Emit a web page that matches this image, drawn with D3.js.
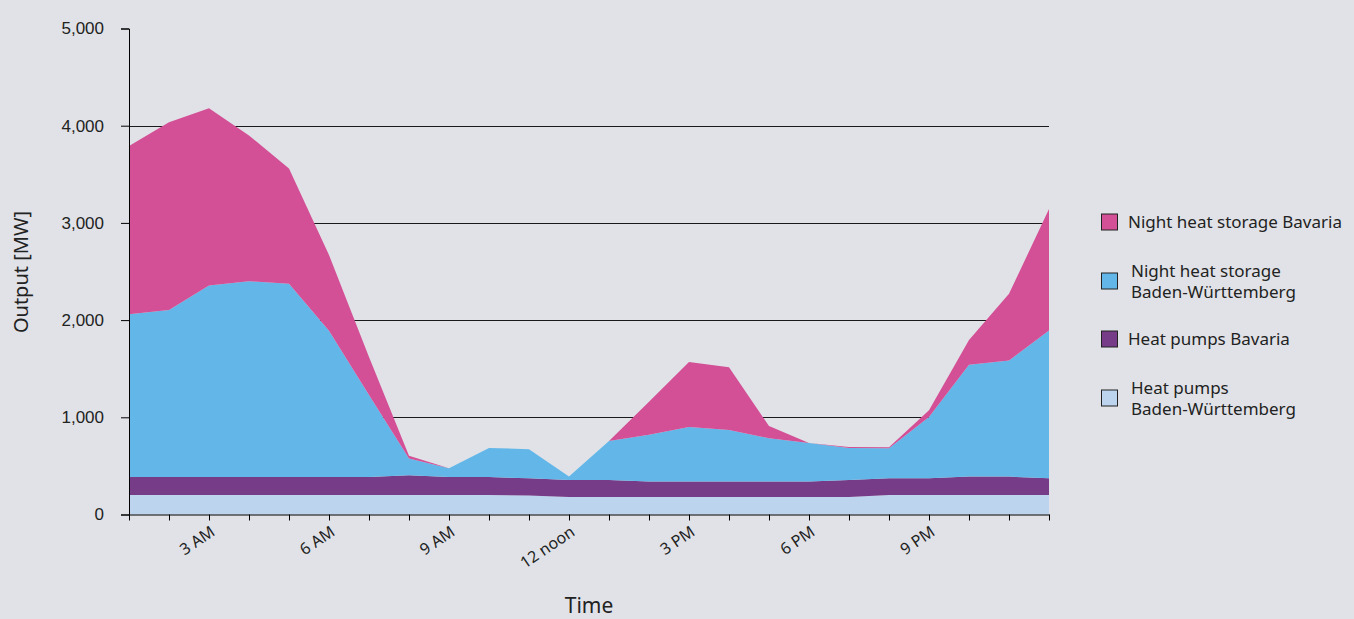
<!DOCTYPE html>
<html>
<head>
<meta charset="utf-8">
<script src="https://cdn.jsdelivr.net/npm/d3@7"></script>
<style>
  body { margin: 0; background: #e1e2e7; }
  svg { display: block; font-family: "Noto Sans", sans-serif; }
</style>
</head>
<body>
<svg id="chart" width="1354" height="619"></svg>
<script>
// hours of the day, index 0 = 1 AM
const hours = d3.range(1, 25);
const tickHours = [3, 6, 9, 12, 15, 18, 21];
const tickLabels = ["3 AM", "6 AM", "9 AM", "12 noon", "3 PM", "6 PM", "9 PM"];
const yTicks = [0, 1000, 2000, 3000, 4000, 5000];

// output in MW
const heatPumpsBW = [200,200,200,200,200,200,200,200,200,200,195,180,180,180,180,180,180,180,180,200,200,200,200,200];
const heatPumpsBav = [185,185,185,185,185,185,185,205,185,185,177,175,175,160,160,160,160,160,175,172,172,190,190,172];
const nightBW = [1675,1720,1970,2015,1990,1505,845,170,90,300,300,35,400,480,560,530,445,395,330,310,630,1150,1195,1520];
const nightBav = [1730,1930,1825,1500,1185,780,390,30,0,0,0,0,0,340,670,645,125,0,10,10,70,255,685,1250];

const seriesKeys = ["hpBW", "hpBav", "nsBW", "nsBav"];
const colors = { hpBW: "#bdd4ef", hpBav: "#763c88", nsBW: "#62b7e8", nsBav: "#d35096" };

// table for d3.stack
const table = hours.map((h, i) => ({
    hour: h,
    hpBW: heatPumpsBW[i],
    hpBav: heatPumpsBav[i],
    nsBW: nightBW[i],
    nsBav: nightBav[i]
}));

const svg = d3.select("#chart");
const margin = {top: 28.5, right: 305, bottom: 104.5, left: 129};
const width = 1354, height = 619;

const x = d3.scaleLinear()
    .domain([1, 24])
    .range([margin.left, width - margin.right]);

const y = d3.scaleLinear()
    .domain([0, 5000])
    .range([height - margin.bottom, margin.top]);

//gridlines behind the areas
svg.append("g")
    .selectAll("line")
    .data(yTicks.filter(t => t > 0 && t < 5000))
    .join("line")
        .attr("x1", x(1))
        .attr("x2", x(24))
        .attr("y1", d => Math.round(y(d)) + 0.5)
        .attr("y2", d => Math.round(y(d)) + 0.5)
        .attr("stroke", "#1a1a1a")
        .attr("stroke-width", 1);

//stacked areas
const stacked = d3.stack().keys(seriesKeys)(table);

const area = d3.area()
    .x(d => x(d.data.hour))
    .y0(d => y(d[0]))
    .y1(d => y(d[1]));

svg.append("g")
    .selectAll("path")
    .data(stacked)
    .join("path")
        .attr("fill", d => colors[d.key])
        .attr("d", area);

//y axis
const yAxis = g => g
    .attr("transform", `translate(${x(1)},0)`)
    .call(d3.axisLeft(y).tickValues(yTicks).tickFormat(d3.format(",")).tickSize(8).tickPadding(17))
    .call(g => g.selectAll("text").attr("fill", "#222").style("font-size", "17px"))
    .call(g => g.selectAll("line, path").attr("stroke", "#000"));

svg.append("g").call(yAxis);

//x axis with hourly ticks
const xAxis = g => g
    .attr("transform", `translate(0,${y(0)})`)
    .call(d3.axisBottom(x).tickValues(hours).tickFormat("").tickSize(6).tickSizeOuter(0))
    .call(g => g.selectAll("line, path").attr("stroke", "#000"));

svg.append("g").call(xAxis);

svg.append("g")
    .selectAll("text")
    .data(tickHours)
    .join("text")
        .attr("transform", d => `translate(${x(d) + 7},${y(0) + 20}) rotate(-34)`)
        .attr("text-anchor", "end")
        .attr("fill", "#222")
        .style("font-size", "16px")
        .text((d, i) => tickLabels[i]);

//axis titles
svg.append("text")
    .attr("x", x(12.5))
    .attr("y", 613)
    .attr("text-anchor", "middle")
    .attr("fill", "#222")
    .style("font-size", "21px")
    .text("Time");

svg.append("text")
    .attr("transform", `translate(28,272) rotate(-90)`)
    .attr("text-anchor", "middle")
    .attr("fill", "#222")
    .style("font-size", "20px")
    .text("Output [MW]");

//legend, top entry first
const legendItems = [
    {key: "nsBav", lines: ["Night heat storage Bavaria"], y: 222},
    {key: "nsBW", lines: ["Night heat storage", "Baden-Württemberg"], y: 281},
    {key: "hpBav", lines: ["Heat pumps Bavaria"], y: 339},
    {key: "hpBW", lines: ["Heat pumps", "Baden-Württemberg"], y: 398}
];

const legend = svg.append("g")
    .selectAll("g")
    .data(legendItems)
    .join("g")
        .attr("transform", d => `translate(1101,${d.y})`);

legend.append("rect")
    .attr("x", 0.5)
    .attr("y", -8)
    .attr("width", 16)
    .attr("height", 16)
    .attr("fill", d => colors[d.key])
    .attr("stroke", "#222")
    .attr("stroke-width", 1);

legend.append("text")
    .attr("x", d => d.lines.length > 1 ? 30 : 27)
    .attr("y", d => d.lines.length > 1 ? -10 : 0)
    .attr("fill", "#222")
    .style("font-size", "17px")
    .selectAll("tspan")
    .data(d => d.lines)
    .join("tspan")
        .attr("x", function() { return d3.select(this.parentNode).attr("x"); })
        .attr("dy", (d, i) => i === 0 ? "0.35em" : "21px")
        .text(d => d);
</script>
</body>
</html>
